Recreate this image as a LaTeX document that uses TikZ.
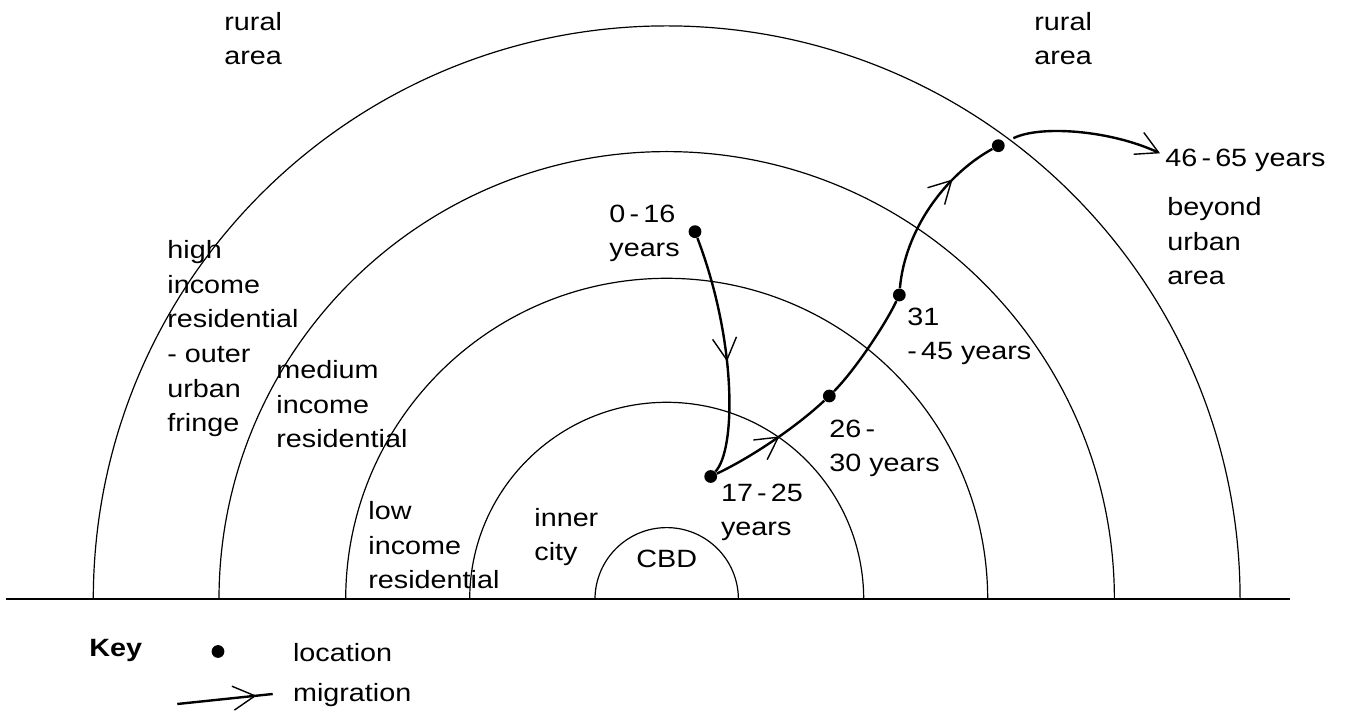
\documentclass[tikz,border=0pt]{standalone}
\usepackage{fontspec}
\setmainfont{Liberation Sans}[FakeStretch=1.15]
\usetikzlibrary{arrows.meta,decorations.markings}
\tikzset{mybarb/.tip={Straight Barb[length=11pt,width=12pt,line width=0.7pt]}}
\begin{document}
\begin{tikzpicture}[x=0.5pt,y=-0.5pt,
  zone/.style={line width=0.6pt},
  ground/.style={line width=1pt},
  lab/.style={anchor=base west, inner sep=0pt, align=left, font=\fontsize{12.5}{17.3}\selectfont},
  keylab/.style={lab, font=\fontsize{12.5}{17.3}\selectfont\bfseries},
  dot/.style={circle, fill=black, inner sep=0pt, minimum size=6.4pt},
  mig/.style={line width=1.2pt},
  midarrow/.style={postaction={decorate}, decoration={markings, mark=at position #1 with {\arrow{mybarb}}}}
  ]
\useasboundingbox (0,0) rectangle (1346,715);
% zones
\foreach \r in {71.7,197,321,447.7,573.4}
  \draw[zone] (666.7,599.3) ++(-\r,0) arc[start angle=180,end angle=360,radius=\r];
\draw[ground] (6,599.3) -- (1290,599.3);
% labels (anchored on the baseline of their last line)
\node[lab] (ruralL) at (224,65) {rural\\area};
\node[lab] (ruralR) at (1034,65) {rural\\area};
\node[lab] (high) at (167,431.7) {high\\income\\residential\\- outer\\urban\\fringe};
\node[lab] (medium) at (276,448) {medium\\income\\residential};
\node[lab] (low) at (368,589) {low\\income\\residential};
\node[lab] (inner) at (534,561) {inner\\city};
\node[lab] (cbd) at (636,567.3) {CBD};
\node[lab] (l016) at (609,257) {0\,-\,16\\years};
\node[lab] (l1725) at (720.7,536) {17\,-\,25\\years};
\node[lab] (l2630) at (829,471.7) {26\,-\\30 years};
\node[lab] (l3145) at (907,360) {31\\-\,45 years};
\node[lab] (l4665) at (1165,166.7) {46\,-\,65 years};
\node[lab] (beyond) at (1167,285) {beyond\\urban\\area};
% locations
\node[dot] (A) at (695,231.7) {};
\node[dot] (B) at (710.7,476.5) {};
\node[dot] (C) at (829.3,396) {};
\node[dot] (D) at (899.3,295) {};
\node[dot] (E) at (998.3,145.7) {};
\coordinate (t46) at (1160,153.3);
% migrations
\draw[mig, midarrow=0.53] (A) .. controls (737,342) and (736,450) .. (B);
\draw[mig, midarrow=0.56] (B) .. controls (750,458) and (795,428) .. (C);
\draw[mig] (C) .. controls (855,370) and (885,325) .. (D);
\draw[mig, midarrow=0.71] (D) .. controls (905,230) and (945,175) .. (E);
\draw[mig, -{mybarb}, shorten <=5pt] (E) .. controls (1040,125) and (1110,130) .. (t46);
% key
\node[keylab] (key) at (89,657) {Key};
\node[dot] (keydot) at (218,651.5) {};
\node[lab] (loc) at (292.7,661.7) {location};
\node[lab] (migr) at (292.7,701.7) {migration};
\coordinate (k1) at (177.3,704);
\coordinate (k2) at (272.7,694);
\draw[mig, midarrow=0.83] (k1) -- (k2);
\end{tikzpicture}
\end{document}
